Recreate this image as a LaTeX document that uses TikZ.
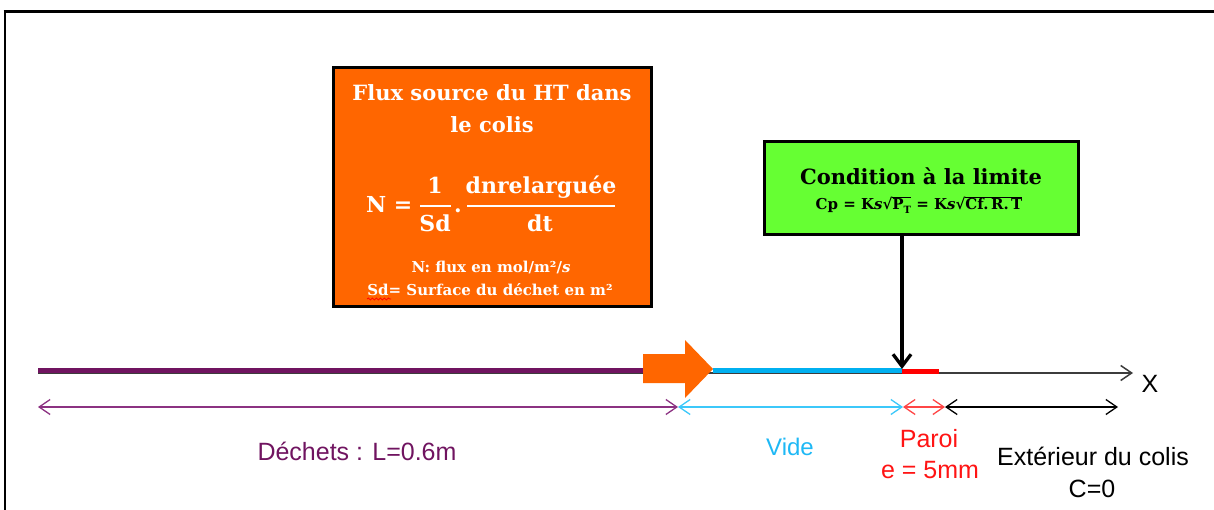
\documentclass[tikz,border=0pt]{standalone}
\usepackage{fontspec}
\setmainfont{DejaVu Serif}
\newfontfamily\arialf{Liberation Sans}
\usetikzlibrary{arrows.meta,decorations.pathmorphing}
\definecolor{orangebox}{RGB}{255,102,0}
\definecolor{greenbox}{RGB}{102,255,51}
\definecolor{dechet}{RGB}{112,20,96}
\definecolor{dechetdim}{RGB}{140,50,130}
\definecolor{videc}{RGB}{0,176,240}
\definecolor{videtxt}{RGB}{30,184,245}
\definecolor{videdim}{RGB}{60,200,250}
\definecolor{redtxt}{RGB}{255,20,20}
\definecolor{reddim}{RGB}{255,70,70}
\definecolor{axisc}{RGB}{60,60,60}
\newlength\myradwd
\newcommand\myrad[1]{√\settowidth{\myradwd}{#1}\rlap{\rule[0.78em]{\myradwd}{0.07em}}#1}
\begin{document}
\begin{tikzpicture}[x=1pt,y=-1pt,
  box/.style={draw=black,line width=3pt,inner sep=0pt},
  boxtext/.style={anchor=base,inner sep=0pt},
  big/.style={boxtext,text=white,font=\bfseries\fontsize{21}{25}\selectfont},
  eqt/.style={boxtext,text=white,font=\bfseries\fontsize{22}{26}\selectfont},
  small/.style={boxtext,text=white,font=\bfseries\fontsize{15}{18}\selectfont},
  fracbar/.style={white,line width=1.3pt},
  lbl/.style={anchor=base,inner sep=0pt,font=\arialf\fontsize{25}{30}\selectfont},
  dim/.style={line width=1.3pt,{Straight Barb[length=11pt,width=15pt]}-{Straight Barb[length=11pt,width=15pt]}},
  seg/.style={line width=5pt},
]
\useasboundingbox (0,0) rectangle (1214,510);
% frame
\draw[line width=3pt] (3.5,12) -- (1214,12);
\draw[line width=2pt] (5,12) -- (5,510);

% boxes
\node[box,fill=orangebox,minimum width=318pt,minimum height=238pt] (flux) at (492,187) {};
\node[box,fill=greenbox,minimum width=314pt,minimum height=93pt] (cond) at (921,188.5) {};

% orange box texts
\node[big] (t1) at (492,101) {Flux source du HT dans};
\node[big] (t2) at (492,133) {le colis};
\node[eqt,anchor=base west] (fN) at (366,213) {N =};
\node[eqt] (f1) at (435,194) {1};
\node[eqt] (fSd) at (435,232) {Sd};
\coordinate (b1a) at (420,206);
\coordinate (b1b) at (451,206);
\draw[fracbar] (b1a) -- (b1b);
\node[eqt] (fdot) at (458,213) {.};
\node[eqt] (fnum) at (541,194) {dnrelarguée};
\node[eqt] (fden) at (540,232) {dt};
\coordinate (b2a) at (467,206);
\coordinate (b2b) at (615,206);
\draw[fracbar] (b2a) -- (b2b);
\node[small] (n1) at (491,273) {N: flux en mol/m²/\textit{s}};
\node[small] (n2) at (490,295) {Sd= Surface du déchet en m²};
\draw[red,line width=0.8pt,decorate,decoration={snake,amplitude=1pt,segment length=4pt}] ([yshift=-4pt]n2.base west) -- ([xshift=24pt,yshift=-4pt]n2.base west);

% green box texts
\node[boxtext,text=black,font=\bfseries\fontsize{21}{25}\selectfont] (c1) at (921,185) {Condition à la limite};
\node[boxtext,text=black,font=\bfseries\fontsize{15}{18}\selectfont] (c2) at (919,210) {Cp = K\textit{s}\myrad{P\raisebox{-0.25em}{\fontsize{10}{11}\selectfont T}} = K\textit{s}\myrad{Cf.\,R.\,T}};

% axis
\coordinate (x0) at (38,373);
\coordinate (xend) at (1133,373);
\draw[axisc,line width=1.5pt,-{Straight Barb[length=11pt,width=15pt]}] (x0) -- (xend);
\node[lbl,text=black] (xl) at (1150,392) {X};

% segments
\coordinate (p0) at (38,370);
\coordinate (p1) at (690,370);
\coordinate (p2) at (713,370);
\coordinate (wall) at (902,370);
\coordinate (p4) at (939,370);
\draw[seg,dechet] (p0) -- (p1);
\draw[seg,videc] (p2) -- (wall);
\draw[seg,red] ([yshift=-1.5pt]wall) -- ([yshift=-1.5pt]p4);

% orange block arrow
\fill[orangebox] (643,354) -- (685,354) -- (685,340) -- (713,369) -- (685,398) -- (685,383) -- (643,383) -- cycle;

% vertical arrow
\draw[line width=3.3pt,-{Straight Barb[length=12pt,width=18pt]}] (cond.south -| wall) -- ([yshift=1pt]wall);

% dimension arrows
\coordinate (d0) at (38,407);
\coordinate (d1) at (678,407);
\coordinate (d2) at (903,407);
\coordinate (d3) at (945,407);
\coordinate (d4) at (1118,407);
\draw[dim,dechetdim] (d0) -- (d1);
\draw[dim,videdim] (d1) -- (d2);
\draw[dim,reddim] (d2) -- (d3);
\draw[dim,black] (d3) -- (d4);

% labels
\node[lbl,text=dechet] (ld) at (357,460) {Déchets : L=0.6m};
\node[lbl,text=videtxt,font=\arialf\fontsize{24}{29}\selectfont] (lv) at (790,455) {Vide};
\node[lbl,text=redtxt] (lp1) at (929,447) {Paroi};
\node[lbl,text=redtxt] (lp2) at (930,478) {e = 5mm};
\node[lbl,text=black] (le1) at (1093,465) {Extérieur du colis};
\node[lbl,text=black] (le2) at (1092,497) {C=0};
\end{tikzpicture}
\end{document}
